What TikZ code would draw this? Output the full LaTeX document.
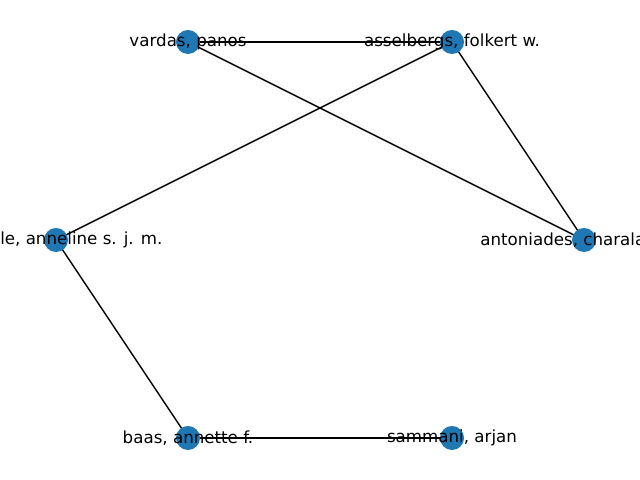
\documentclass[tikz,border=0pt]{standalone}
\usepackage{fontspec}
\setmainfont{DejaVu Sans}
\definecolor{nodeblue}{HTML}{1F77B4}
\begin{document}
\begin{tikzpicture}[x=0.01in,y=-0.01in,
  vertex/.style={circle,fill=nodeblue,draw=none,minimum size=0.24in,inner sep=0pt},
  link/.style={draw=black,line width=1bp},
  lbl/.style={font=\fontsize{12bp}{14bp}\selectfont,inner sep=0pt,text=black}]
  \useasboundingbox (0,0) rectangle (640,480);
  \clip (0,0) rectangle (640,480);
  % vertex positions
  \coordinate (pv) at (188,42);
  \coordinate (pa) at (452,42);
  \coordinate (pk) at (56,240);
  \coordinate (pc) at (584,240);
  \coordinate (pb) at (188,438);
  \coordinate (ps) at (452,438);
  % edges
  \draw[link] (pv) -- (pa);
  \draw[link] (pv) -- (pc);
  \draw[link] (pa) -- (pc);
  \draw[link] (pa) -- (pk);
  \draw[link] (pk) -- (pb);
  \draw[link] (pb) -- (ps);
  % vertices
  \node[vertex] (v) at (pv) {};
  \node[vertex] (a) at (pa) {};
  \node[vertex] (k) at (pk) {};
  \node[vertex] (c) at (pc) {};
  \node[vertex] (b) at (pb) {};
  \node[vertex] (s) at (ps) {};
  % labels
  \node[lbl] (lv) at (pv) {vardas, panos};
  \node[lbl] (la) at (pa) {asselbergs, folkert w.};
  \node[lbl,anchor=west] (lk) at (0,240) {le, anneline s. j. m.};
  \node[lbl,anchor=west] (lc) at (480,240) {antoniades, charala};
  \node[lbl] (lb) at (pb) {baas, annette f.};
  \node[lbl] (ls) at (ps) {sammani, arjan};
\end{tikzpicture}
\end{document}
